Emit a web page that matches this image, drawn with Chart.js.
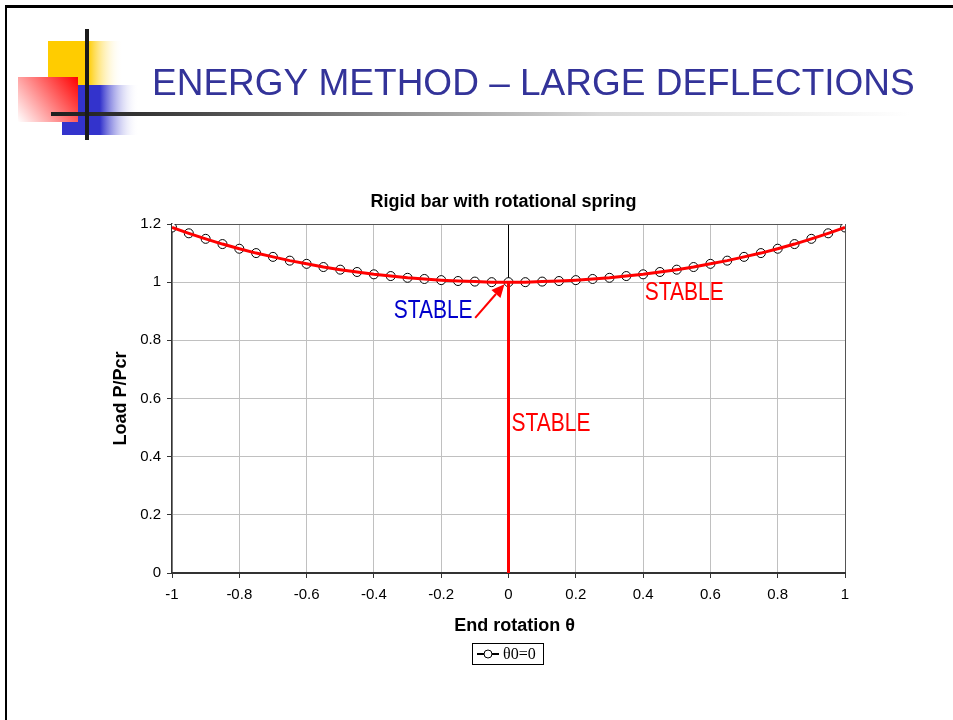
<!DOCTYPE html>
<html><head><meta charset="utf-8">
<script src="https://cdn.jsdelivr.net/npm/chart.js@4"></script>
<style>html,body{margin:0;padding:0;background:#fff;overflow:hidden}#c{display:block}</style>
</head><body>
<canvas id="c" width="953" height="720"></canvas>
<script>
const slideTitle = "ENERGY METHOD – LARGE DEFLECTIONS";
const chartTitle = "Rigid bar with rotational spring";
const xAxisTitle = "End rotation θ";
const yAxisTitle = "Load P/Pcr";
const legendLabel = "θ0=0";

const thetaValues = [-1,-0.95,-0.9,-0.85,-0.8,-0.75,-0.7,-0.65,-0.6,-0.55,-0.5,-0.45,-0.4,-0.35,-0.3,-0.25,-0.2,-0.15,-0.1,-0.05,0,
  0.05,0.1,0.15,0.2,0.25,0.3,0.35,0.4,0.45,0.5,0.55,0.6,0.65,0.7,0.75,0.8,0.85,0.9,0.95,1];
const loadValues = [1.188,1.168,1.149,1.131,1.115,1.100,1.087,1.074,1.063,1.052,1.043,1.035,1.027,1.021,1.015,1.011,1.007,1.004,1.002,1.000,1.000,
  1.000,1.002,1.004,1.007,1.011,1.015,1.021,1.027,1.035,1.043,1.052,1.063,1.074,1.087,1.100,1.115,1.131,1.149,1.168,1.188];
const branchX = [0, 0];
const branchY = [0, 1];
const xTickValues = [-1,-0.8,-0.6,-0.4,-0.2,0,0.2,0.4,0.6,0.8,1];
const yTickValues = [0,0.2,0.4,0.6,0.8,1,1.2];
const labelTexts = ["STABLE","STABLE","STABLE"];
const labelX = [-0.224, 0.522, 0.126];
const labelY = [0.901, 0.963, 0.512];
const labelColors = ["#0000cc","#ff0000","#ff0000"];
const arrowFrom = [-0.099, 0.877];
const arrowTo = [-0.012, 0.993];

const pts = thetaValues.map((t,i)=>({x:t,y:loadValues[i]}));
const branch = branchX.map((t,i)=>({x:t,y:branchY[i]}));

function narrowText(ctx, text, cx, cy, size, color, sx){
  ctx.save(); ctx.translate(cx, cy); ctx.scale(sx,1);
  ctx.font = size+'px "Liberation Sans", Arial, sans-serif';
  ctx.textAlign='center'; ctx.textBaseline='middle'; ctx.fillStyle=color;
  ctx.fillText(text,0,0); ctx.restore();
}

const slidePlugin = {
  id:'slide',
  beforeDraw(chart){
    const ctx = chart.ctx;
    ctx.save();
    ctx.fillStyle='#fff'; ctx.fillRect(0,0,953,720);
    ctx.fillStyle='#000';
    ctx.fillRect(5,5,948,3);
    ctx.fillRect(5,5,2,715);
    ctx.fillStyle='#ffcc00'; ctx.fillRect(48,41,40,44);
    let g = ctx.createLinearGradient(88,0,123,0);
    g.addColorStop(0,'#ffcc00'); g.addColorStop(1,'rgba(255,255,255,0)');
    ctx.fillStyle=g; ctx.fillRect(88,41,35,44);
    ctx.fillStyle='#3333cc'; ctx.fillRect(62,85,38,50);
    g = ctx.createLinearGradient(100,0,139,0);
    g.addColorStop(0,'#3333cc'); g.addColorStop(1,'rgba(255,255,255,0)');
    ctx.fillStyle=g; ctx.fillRect(100,85,39,50);
    g = ctx.createLinearGradient(78,77,18,122);
    g.addColorStop(0,'#ff0000'); g.addColorStop(1,'#ffffff');
    ctx.fillStyle=g; ctx.fillRect(18,77,60,45);
    g = ctx.createLinearGradient(51,0,910,0);
    g.addColorStop(0,'#1e1e1e'); g.addColorStop(0.1,'#333'); g.addColorStop(0.64,'#d8d8d8'); g.addColorStop(1,'#ffffff');
    ctx.fillStyle=g; ctx.fillRect(51,112,859,4);
    ctx.fillStyle='#1a1a1a'; ctx.fillRect(85,29,4,111);
    ctx.fillStyle='#333399';
    ctx.font='37px "Liberation Sans", Arial, sans-serif';
    ctx.textAlign='left'; ctx.textBaseline='alphabetic';
    ctx.fillText(slideTitle,152,95);
    ctx.restore();
  },
  afterDraw(chart){
    const ctx = chart.ctx, xs = chart.scales.x, ys = chart.scales.y, ca = chart.chartArea;
    ctx.save();
    ctx.fillStyle='#000';
    ctx.font='bold 18px "Liberation Sans", Arial, sans-serif';
    ctx.textAlign='center'; ctx.textBaseline='middle';
    ctx.fillText(chartTitle,(ca.left+ca.right)/2-5,202);
    ctx.fillText(xAxisTitle,(ca.left+ca.right)/2+6,626);
    ctx.save(); ctx.translate(121,(ca.top+ca.bottom)/2); ctx.rotate(-Math.PI/2);
    ctx.fillText(yAxisTitle,0,0); ctx.restore();
    const lx=472, ly=643, lw=71, lh=21;
    ctx.strokeStyle='#000'; ctx.lineWidth=1;
    ctx.strokeRect(lx+0.5,ly+0.5,lw,lh);
    const my = ly+lh/2+0.5;
    ctx.beginPath(); ctx.moveTo(lx+5,my); ctx.lineTo(lx+27,my); ctx.lineWidth=2; ctx.stroke();
    ctx.beginPath(); ctx.arc(lx+16,my,4,0,Math.PI*2); ctx.fillStyle='#fff'; ctx.fill(); ctx.lineWidth=1; ctx.stroke();
    ctx.fillStyle='#000'; ctx.font='16px "Liberation Serif", "Times New Roman", serif';
    ctx.textAlign='left'; ctx.fillText(legendLabel,lx+31,my+1);
    for(let i=0;i<labelTexts.length;i++){
      narrowText(ctx,labelTexts[i],xs.getPixelForValue(labelX[i]),ys.getPixelForValue(labelY[i]),25,labelColors[i],0.84);
    }
    const ax0=xs.getPixelForValue(arrowFrom[0]), ay0=ys.getPixelForValue(arrowFrom[1]);
    const ax1=xs.getPixelForValue(arrowTo[0]), ay1=ys.getPixelForValue(arrowTo[1]);
    const ang=Math.atan2(ay1-ay0,ax1-ax0), hl=13, hw=6;
    ctx.strokeStyle='#ff0000'; ctx.fillStyle='#ff0000'; ctx.lineWidth=2;
    ctx.beginPath(); ctx.moveTo(ax0,ay0); ctx.lineTo(ax1-hl*Math.cos(ang),ay1-hl*Math.sin(ang)); ctx.stroke();
    ctx.beginPath(); ctx.moveTo(ax1,ay1);
    ctx.lineTo(ax1-hl*Math.cos(ang)+hw*Math.sin(ang), ay1-hl*Math.sin(ang)-hw*Math.cos(ang));
    ctx.lineTo(ax1-hl*Math.cos(ang)-hw*Math.sin(ang), ay1-hl*Math.sin(ang)+hw*Math.cos(ang));
    ctx.closePath(); ctx.fill();
    ctx.restore();
  }
};

const near=(a,b)=>Math.abs(a-b)<1e-9;
const fmt=v=>String(Math.round(v*10)/10);

new Chart(document.getElementById('c'),{
  type:'scatter',
  data:{datasets:[
    {label:'branch',data:branch,showLine:true,borderColor:'#ff0000',borderWidth:3,pointRadius:0,order:0},
    {label:'curve',data:pts,showLine:true,borderColor:'#ff0000',borderWidth:3,pointRadius:0,order:1},
    {label:legendLabel,data:pts,showLine:true,borderColor:'#000',borderWidth:1,pointRadius:4.5,pointBackgroundColor:'#fff',pointBorderColor:'#000',pointBorderWidth:1,order:2}
  ]},
  options:{
    responsive:false,animation:false,devicePixelRatio:1,
    layout:{padding:{left:100,right:108,top:224,bottom:97}},
    plugins:{legend:{display:false},tooltip:{enabled:false},title:{display:false}},
    scales:{
      x:{type:'linear',min:-1,max:1,
        afterBuildTicks:s=>{s.ticks=xTickValues.map(v=>({value:v}));},
        afterFit:s=>{s.height=50;},
        ticks:{callback:fmt,color:'#000',font:{family:'"Liberation Sans", Arial',size:15},padding:8,maxRotation:0,autoSkip:false},
        grid:{color:c=>near(c.tick.value,0)?'#000':(near(c.tick.value,1)?'#555':'#c0c0c0'),tickColor:'#333',tickLength:5,lineWidth:1},
        border:{color:'#333',width:2}
      },
      y:{type:'linear',min:0,max:1.2,
        afterBuildTicks:s=>{s.ticks=yTickValues.map(v=>({value:v}));},
        afterFit:s=>{s.width=72;},
        ticks:{callback:fmt,color:'#000',font:{family:'"Liberation Sans", Arial',size:15},padding:6,autoSkip:false},
        grid:{color:c=>near(c.tick.value,1.2)?'#555':'#c0c0c0',tickColor:'#333',tickLength:5,lineWidth:1},
        border:{color:'#333',width:1.5}
      }
    }
  },
  plugins:[slidePlugin]
});
</script>
</body></html>
